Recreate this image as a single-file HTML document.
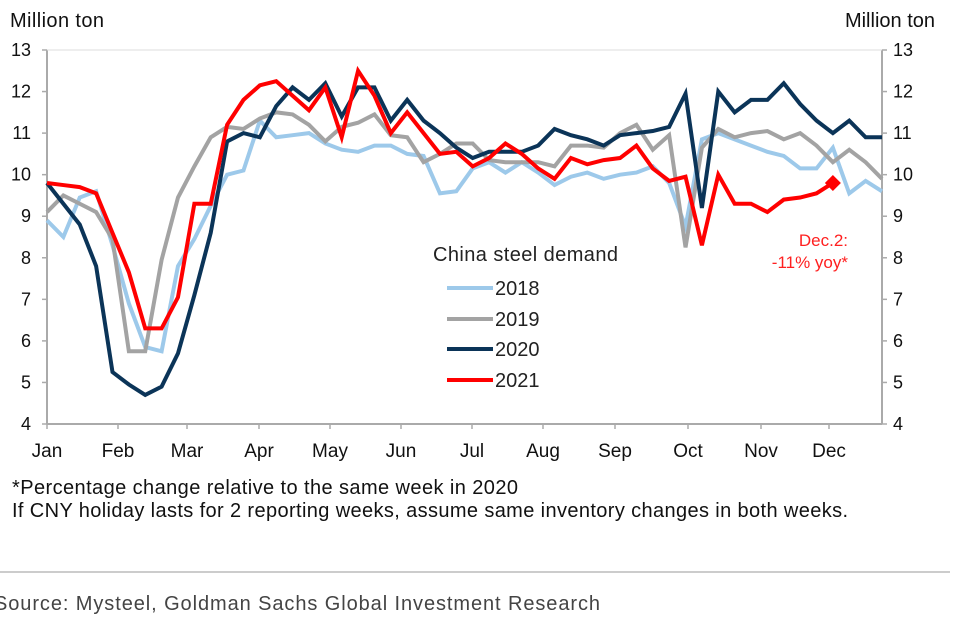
<!DOCTYPE html>
<html><head><meta charset="utf-8"><style>
body{margin:0;background:#fff;width:961px;height:628px;overflow:hidden;font-family:"Liberation Sans",sans-serif}
svg{position:absolute;left:0;top:0}
</style></head><body>
<svg width="961" height="628">
<g id="axes"></g><g id="series"></g>
<text x="10" y="27" font-size="20" fill="#111" textLength="94">Million ton</text>
<text x="935" y="27" font-size="20" fill="#111" text-anchor="end">Million ton</text>
<g font-size="20" fill="#222">
<text x="433" y="261" textLength="185">China steel demand</text>
<line x1="447" x2="493" y1="288" y2="288" stroke="#9dc9ea" stroke-width="4"/>
<text x="495" y="295">2018</text>
<line x1="447" x2="493" y1="319" y2="319" stroke="#a3a3a3" stroke-width="4"/>
<text x="495" y="326">2019</text>
<line x1="447" x2="493" y1="349" y2="349" stroke="#0b3458" stroke-width="4"/>
<text x="495" y="356">2020</text>
<line x1="447" x2="493" y1="380" y2="380" stroke="#ff0000" stroke-width="4"/>
<text x="495" y="387">2021</text>
</g>
<text x="848" y="246" font-size="17" fill="#ff2020" text-anchor="end">Dec.2:</text>
<text x="848" y="268" font-size="17" fill="#ff2020" text-anchor="end">-11% yoy*</text>
<text x="12" y="494" font-size="20" fill="#111" textLength="506">*Percentage change relative to the same week in 2020</text>
<text x="12" y="517" font-size="20" fill="#111" textLength="836">If CNY holiday lasts for 2 reporting weeks, assume same inventory changes in both weeks.</text>
<line x1="0" x2="950" y1="572" y2="572" stroke="#999" stroke-width="1"/>
<text x="-6" y="610" font-size="20" fill="#444" textLength="606">Source: Mysteel, Goldman Sachs Global Investment Research</text>
</svg>
<script>
const months=["Jan","Feb","Mar","Apr","May","Jun","Jul","Aug","Sep","Oct","Nov","Dec"];
const monthX=[47,118,187,259,330,401,472,543,615,688,761,829];
const yTicks=[4,5,6,7,8,9,10,11,12,13];
const s2018=[8.9,8.5,9.45,9.6,8.3,6.9,5.85,5.75,7.8,8.45,9.25,10.0,10.1,11.3,10.9,10.95,11.0,10.75,10.6,10.55,10.7,10.7,10.5,10.45,9.55,9.6,10.15,10.3,10.05,10.3,10.05,9.75,9.95,10.05,9.9,10.0,10.05,10.2,9.8,8.75,10.85,11.0,10.85,10.7,10.55,10.45,10.15,10.15,10.65,9.55,9.85,9.6];
const s2019=[9.1,9.5,9.3,9.1,8.45,5.75,5.75,7.95,9.45,10.2,10.9,11.15,11.1,11.35,11.5,11.45,11.2,10.8,11.15,11.25,11.45,10.95,10.9,10.3,10.5,10.75,10.75,10.35,10.3,10.3,10.3,10.2,10.7,10.7,10.65,11.0,11.2,10.6,10.95,8.25,10.65,11.1,10.9,11.0,11.05,10.85,11.0,10.7,10.3,10.6,10.3,9.9];
const s2020=[9.8,9.3,8.8,7.8,5.25,4.95,4.7,4.9,5.7,7.1,8.6,10.8,11.0,10.9,11.65,12.1,11.8,12.2,11.4,12.1,12.1,11.3,11.8,11.3,11.0,10.65,10.4,10.55,10.55,10.55,10.7,11.1,10.95,10.85,10.7,10.95,11.0,11.05,11.15,11.95,9.2,12.0,11.5,11.8,11.8,12.2,11.7,11.3,11.0,11.3,10.9,10.9];
const s2021=[9.8,9.75,9.7,9.55,8.6,7.65,6.3,6.3,7.05,9.3,9.3,11.2,11.8,12.15,12.25,11.9,11.55,12.1,10.9,12.5,11.9,11.0,11.5,11.0,10.5,10.55,10.2,10.4,10.75,10.5,10.15,9.9,10.4,10.25,10.35,10.4,10.7,10.15,9.85,9.95,8.3,10.0,9.3,9.3,9.1,9.4,9.45,9.55,9.8];
const X0=47,X1=882,Y0=424,Y1=50;
const xw=i=>X0+i*(X1-X0)/51;
const yv=v=>Y0-(v-4)*(Y0-Y1)/9;
const NS="http://www.w3.org/2000/svg";
function mk(tag,attrs,parent){const e=document.createElementNS(NS,tag);for(const k in attrs)e.setAttribute(k,attrs[k]);parent.appendChild(e);return e;}
const ax=document.getElementById('axes'),se=document.getElementById('series');
let e=mk('line',{x1:X0,x2:X0,y1:Y1,y2:Y0,stroke:'#aaa','stroke-width':2},ax);


e=mk('line',{x1:X1,x2:X1,y1:Y1,y2:Y0,stroke:'#aaa','stroke-width':2},ax);


e=mk('line',{x1:X0,x2:X1,y1:Y0,y2:Y0,stroke:'#aaa','stroke-width':2},ax);


e=mk('line',{x1:X0,x2:X1,y1:Y1,y2:Y1,stroke:'#ddd','stroke-width':1},ax);


yTicks.forEach(t=>{const y=yv(t);
 mk('line',{x1:X0-5,x2:X0,y1:y,y2:y,stroke:'#aaa','stroke-width':1.5},ax);
 mk('line',{x1:X1,x2:X1+5,y1:y,y2:y,stroke:'#aaa','stroke-width':1.5},ax);
 let a=mk('text',{x:31,y:y+6,'font-size':18,fill:'#111','text-anchor':'end'},ax);a.textContent=t;
 
 
 let b=mk('text',{x:893,y:y+6,'font-size':18,fill:'#111'},ax);b.textContent=t;
 
 
});
months.forEach((m,i)=>{const x=monthX[i];
 mk('line',{x1:x,x2:x,y1:Y0,y2:Y0+5,stroke:'#aaa','stroke-width':1.5},ax);
 let t=mk('text',{x:x,y:457,'font-size':19,fill:'#111','text-anchor':'middle'},ax);t.textContent=m;
 
 
});
[[s2018,'#9dc9ea','series-2018'],[s2019,'#a3a3a3','series-2019'],[s2020,'#0b3458','series-2020'],[s2021,'#ff0000','series-2021']].forEach(([d,c,n])=>{
 const p=mk('polyline',{points:d.map((v,i)=>xw(i)+','+yv(v)).join(' '),fill:'none',stroke:c,'stroke-width':4,'stroke-linejoin':'miter'},se);
 
 
});
const li=s2021.length-1,mx=xw(li),my=yv(s2021[li]);
const dm=mk('polygon',{points:`${mx},${my-8} ${mx+8},${my} ${mx},${my+8} ${mx-8},${my}`,fill:'#ff0000'},se);


</script>
</body></html>
